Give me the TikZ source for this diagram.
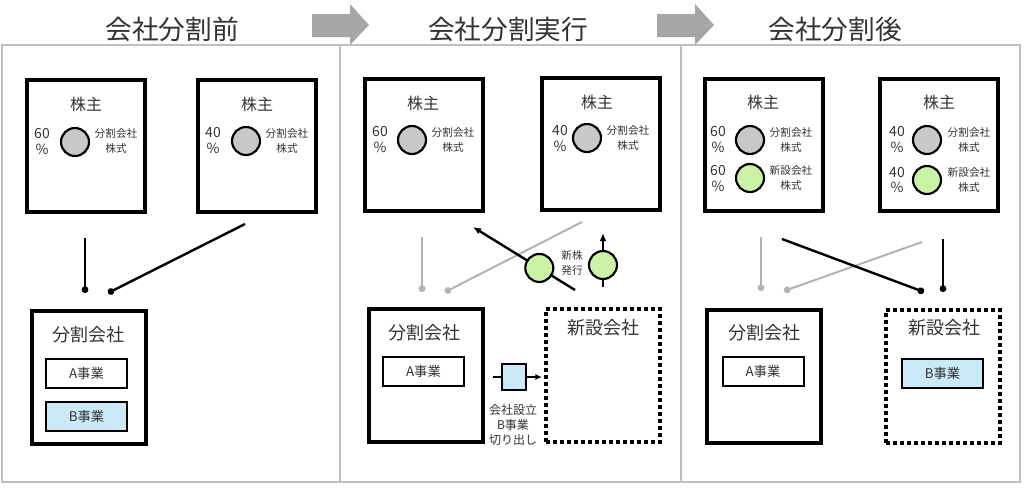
\documentclass[tikz,border=0pt]{standalone}
\usepackage{fontspec}
\setmainfont{Noto Sans CJK JP}
\usetikzlibrary{arrows.meta}
\definecolor{txt}{HTML}{333333}
\definecolor{panelline}{HTML}{BFBFBF}
\definecolor{stepgray}{HTML}{A6A6A6}
\definecolor{shgray}{HTML}{C8C8C8}
\definecolor{shgreen}{HTML}{CCF2A6}
\definecolor{bizblue}{HTML}{CCE9F7}
\definecolor{linkgray}{HTML}{B3B3B3}
\begin{document}
\begin{tikzpicture}[x=0.75pt, y=-0.75pt,
	every node/.style={text=txt, inner sep=0pt},
	hdr/.style={font=\fontsize{20}{24}\selectfont},
	holder/.style={draw, line width=3pt, minimum width=88.5pt, minimum height=99pt},
	company/.style={draw, line width=3pt, minimum width=85.5pt, minimum height=99.75pt},
	newco/.style={company, dash pattern=on 3pt off 2.25pt},
	who/.style={font=\fontsize{12}{14}\selectfont},
	coname/.style={font=\fontsize{13.5}{16}\selectfont},
	biz/.style={draw, line width=1.5pt, minimum width=60.75pt, minimum height=21.75pt, font=\fontsize{10}{12}\selectfont},
	share/.style={circle, draw, line width=1.6pt, minimum size=21pt, fill=shgray},
	newshare/.style={share, fill=shgreen},
	pct/.style={align=center, font=\fontsize{10.5}{12}\selectfont},
	small/.style={align=center, font=\fontsize{8}{11}\selectfont},
	link/.style={line width=1.8pt, -{Circle[length=5pt]}},
	graylink/.style={link, draw=linkgray, line width=1.5pt},
	move/.style={line width=1.8pt, -{Latex[length=6pt,width=5pt]}}]
	\useasboundingbox (0,0) rectangle (1024,487);
	\draw[panelline, line width=1.5pt] (2,45) rectangle (1020,482);
	\draw[panelline, line width=1.5pt] (340,45) -- (340,482);
	\draw[panelline, line width=1.5pt] (681,45) -- (681,482);
	\fill[stepgray] (312,14) -- (350,14) -- (350,4) -- (369,25) -- (350,45) -- (350,37) -- (312,37) -- cycle;
	\fill[stepgray] (657,14) -- (695,14) -- (695,4) -- (714,25) -- (695,45) -- (695,37) -- (657,37) -- cycle;

	\node[hdr] (t1) at (172,29) {会社分割前};
	\node[hdr] (t2) at (508,29) {会社分割実行};
	\node[hdr] (t3) at (835,29) {会社分割後};

	\node[holder] (h1) at (86,146) {};
	\node[holder] (h2) at (257,146) {};
	\node[who] at (86,104) {株主};
	\node[who] at (257,104) {株主};
	\node[share] (s1) at (75,142) {};
	\node[share] (s2) at (246,141) {};
	\node[pct] at (42,142) {60\\\%};
	\node[pct] at (213,141) {40\\\%};
	\node[small] at (116,141) {分割会社\\株式};
	\node[small] at (287,141) {分割会社\\株式};
	\node[company] (k1) at (88.5,377.5) {};
	\node[coname] at (88,335) {分割会社};
	\node[biz] (a1) at (86.5,373.5) {A事業};
	\node[biz, fill=bizblue] (b1) at (86.5,416) {B事業};
	\coordinate (l1a) at (85,238);
	\coordinate (l1b) at (85,293);
	\coordinate (l2a) at (245,224);
	\coordinate (l2b) at (108,293);
	\draw[link] (l1a) -- (l1b);
	\draw[link] (l2a) -- (l2b);

	\node[holder] (h3) at (424,145) {};
	\node[holder] (h4) at (600.5,144) {};
	\node[who] at (423,103) {株主};
	\node[who] at (597,102) {株主};
	\node[share] (s3) at (412,140) {};
	\node[share] (s4) at (587,138) {};
	\node[pct] at (380,140) {60\\\%};
	\node[pct] at (560,138) {40\\\%};
	\node[small] at (453,140) {分割会社\\株式};
	\node[small] at (628,138) {分割会社\\株式};
	\coordinate (l3a) at (422,237);
	\coordinate (l3b) at (422,292);
	\coordinate (l4a) at (582,222);
	\coordinate (l4b) at (445,292);
	\draw[graylink] (l3a) -- (l3b);
	\draw[graylink] (l4a) -- (l4b);
	\coordinate (m1a) at (575,290);
	\coordinate (m1b) at (473,227);
	\draw[move] (m1a) -- node[newshare, pos=0.35] (g1) {} (m1b);
	\coordinate (m2a) at (603,287);
	\coordinate (m2b) at (603,233);
	\draw[move] (m2a) -- (m2b);
	\node[newshare] (g2) at (603,265) {};
	\node[small] at (572,263) {新株\\発行};
	\node[company] (k2) at (426,375.5) {};
	\node[coname] at (424,333) {分割会社};
	\node[biz] (a2) at (423.5,371.5) {A事業};
	\node[newco] (n2) at (603,375.5) {};
	\node[coname] at (603,328) {新設会社};
	\node[draw, line width=1.5pt, fill=bizblue, minimum width=18pt, minimum height=19pt] (cut) at (513.5,377) {};
	\coordinate (c1) at (493,377);
	\coordinate (c2) at (542,377);
	\draw[line width=1.5pt] (c1) -- (cut);
	\draw[line width=1.5pt, -{Latex[length=5pt,width=4.5pt]}] (cut) -- (c2);
	\node[small, font=\fontsize{9}{11}\selectfont] at (513,425) {会社設立\\B事業\\切り出し};

	\node[holder] (h5) at (763.5,145) {};
	\node[holder] (h6) at (939,145) {};
	\node[who] at (763,102) {株主};
	\node[who] at (939,102) {株主};
	\node[share] (s5) at (750,140) {};
	\node[newshare] (g5) at (750,178) {};
	\node[share] (s6) at (927,140) {};
	\node[newshare] (g6) at (927,180) {};
	\node[pct] at (718,140) {60\\\%};
	\node[pct] at (718,178) {60\\\%};
	\node[pct] at (897,140) {40\\\%};
	\node[pct] at (897,180) {40\\\%};
	\node[small] at (791,140) {分割会社\\株式};
	\node[small] at (791,178) {新設会社\\株式};
	\node[small] at (969,140) {分割会社\\株式};
	\node[small] at (969,180) {新設会社\\株式};
	\coordinate (l5a) at (761,237);
	\coordinate (l5b) at (761,291);
	\coordinate (l6a) at (922,242);
	\coordinate (l6b) at (784,291);
	\coordinate (l7a) at (782,239);
	\coordinate (l7b) at (924,292);
	\coordinate (l8a) at (943,239);
	\coordinate (l8b) at (943,292);
	\draw[graylink] (l5a) -- (l5b);
	\draw[graylink] (l6a) -- (l6b);
	\draw[link] (l7a) -- (l7b);
	\draw[link] (l8a) -- (l8b);
	\node[company] (k3) at (764,376) {};
	\node[coname] at (764,333) {分割会社};
	\node[biz] (a3) at (763,371.5) {A事業};
	\node[newco] (n3) at (943,376) {};
	\node[coname] at (944,328) {新設会社};
	\node[biz, fill=bizblue] (b3) at (942.5,373.5) {B事業};
\end{tikzpicture}
\end{document}
